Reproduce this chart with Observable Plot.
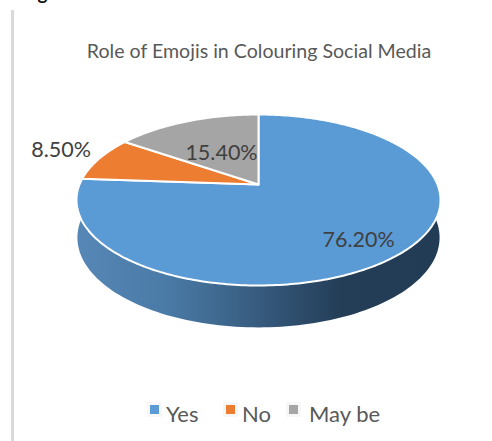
<!DOCTYPE html>
<html>
<head>
<meta charset="utf-8">
<script src="https://cdn.jsdelivr.net/npm/d3@7"></script>
<script src="https://cdn.jsdelivr.net/npm/@observablehq/plot@0.6"></script>
<style>
html,body{margin:0;padding:0;background:#fff;overflow:hidden}
#page{position:relative;width:492px;height:441px;overflow:hidden;font-family:Lato,sans-serif}
#fragment{position:absolute;left:0;top:0;height:5px;width:300px;overflow:hidden}
#fragment span{position:absolute;left:22px;top:-19px;font:bold 19px Lato,sans-serif;color:#111;white-space:nowrap}
#rule{position:absolute;left:11px;top:10px;width:3px;height:431px;background:#d9d9d9}
#title{position:absolute;left:0;width:518px;top:39px;text-align:center;font-size:19.6px;line-height:24px;color:#595959;white-space:nowrap}
#chart{position:absolute;left:0;top:70px}
.lg{position:absolute;top:405px;width:9px;height:9px;box-shadow:0 0 0 3px #f7f7f7}
.lt{position:absolute;top:400px;font-size:22px;line-height:28px;color:#595959;white-space:nowrap}
</style>
</head>
<body>
<div id="page">
<div id="fragment"><span>Fig 3: Social Media</span></div>
<div id="rule"></div>
<div id="title"></div>
<div id="chart"></div>
<div id="legend"></div>
</div>
<script>
const titleText = "Role of Emojis in Colouring Social Media";
const categories = ["Yes", "No", "May be"];
const values = [76.2, 8.5, 15.4];
const labels = ["76.20%", "8.50%", "15.40%"];
const colors = ["#5b9bd5", "#ed7d31", "#a5a5a5"];
const labelRadius = [0.75, 1.27, 0.5];
const labelDx = [-1.5, 2, 1.5];
const labelDy = [5, -2, 2];
const legendLeft = [150, 226, 289];
const legendTextLeft = [166, 242, 309];

// tilted-disc view: the pie's centre sits above the middle of the ellipse
const tilt = 0.181;
const depthShift = 0.44, depthScale = 1.05;

function project(frac, r) {
  const a = frac * 2 * Math.PI, u = r * Math.sin(a), v = r * Math.cos(a);
  const den = 1 + tilt * v;
  return {x: u * Math.sqrt(1 - tilt * tilt) / den, y: (v + tilt) / den};
}

const total = d3.sum(values);
const ends = Array.from(d3.cumsum(values), (d) => d / total);
const starts = [0, ...ends.slice(0, -1)];

const wedges = categories.flatMap((name, i) => {
  const n = Math.max(4, Math.ceil((ends[i] - starts[i]) * 360));
  const apex = {name, ...project(0, 0)};
  const rim = d3.range(n + 1).map((k) => ({name, ...project(starts[i] + (ends[i] - starts[i]) * k / n, 1)}));
  return [apex, ...rim, apex];
});

const sideAngles = d3.range(-0.08, 1.081, 0.01).map((d) => Math.PI * d);
const sideTop = sideAngles.map((t) => ({x: Math.cos(t), y: -Math.sin(t)}));
const sideBottom = sideAngles.map((t) => ({x: Math.cos(t) * 0.995, y: -Math.sin(t) * depthScale - depthShift})).reverse();
const side = [...sideTop, ...sideBottom, sideTop[0]];

const labelRows = categories.map((name, i) => ({
  text: labels[i], ...project((starts[i] + ends[i]) / 2, labelRadius[i])
}));

const gradient = () => {
  const svgNS = "http://www.w3.org/2000/svg";
  const defs = document.createElementNS(svgNS, "defs");
  const g = document.createElementNS(svgNS, "linearGradient");
  g.setAttribute("id", "sideGradient");
  [["0%", "#5687b6"], ["25%", "#4a7aa6"], ["50%", "#375b7e"], ["72%", "#243e58"], ["100%", "#233c55"]].forEach(([o, c]) => {
    const s = document.createElementNS(svgNS, "stop");
    s.setAttribute("offset", o);
    s.setAttribute("stop-color", c);
    g.appendChild(s);
  });
  defs.appendChild(g);
  return defs;
};

const plot = Plot.plot({
  width: 492,
  height: 280,
  margin: 0,
  x: {domain: [-1, 1], range: [76, 440], axis: null},
  y: {domain: [-1, 1], range: [215, 44], axis: null},
  color: {domain: categories, range: colors},
  style: {background: "transparent", overflow: "visible"},
  marks: [
    gradient,
    Plot.line(side, {x: "x", y: "y", fill: "url(#sideGradient)", stroke: "none"}),
    Plot.line(wedges, {x: "x", y: "y", z: "name", fill: "name", stroke: "#fff", strokeWidth: 2, strokeLinejoin: "round"}),
    ...labelRows.map((row, i) => Plot.text([row], {x: "x", y: "y", text: "text", dx: labelDx[i], dy: labelDy[i], fill: "#404040", fontSize: 21.5, fontFamily: "Lato, sans-serif"}))
  ]
});
document.getElementById("chart").appendChild(plot);
document.getElementById("title").textContent = titleText;

const legend = document.getElementById("legend");
categories.forEach((name, i) => {
  const sw = document.createElement("div");
  sw.className = "lg";
  sw.style.left = legendLeft[i] + "px";
  sw.style.background = colors[i];
  legend.appendChild(sw);
  const t = document.createElement("div");
  t.className = "lt";
  t.style.left = legendTextLeft[i] + "px";
  t.textContent = name;
  legend.appendChild(t);
});
</script>
</body>
</html>
